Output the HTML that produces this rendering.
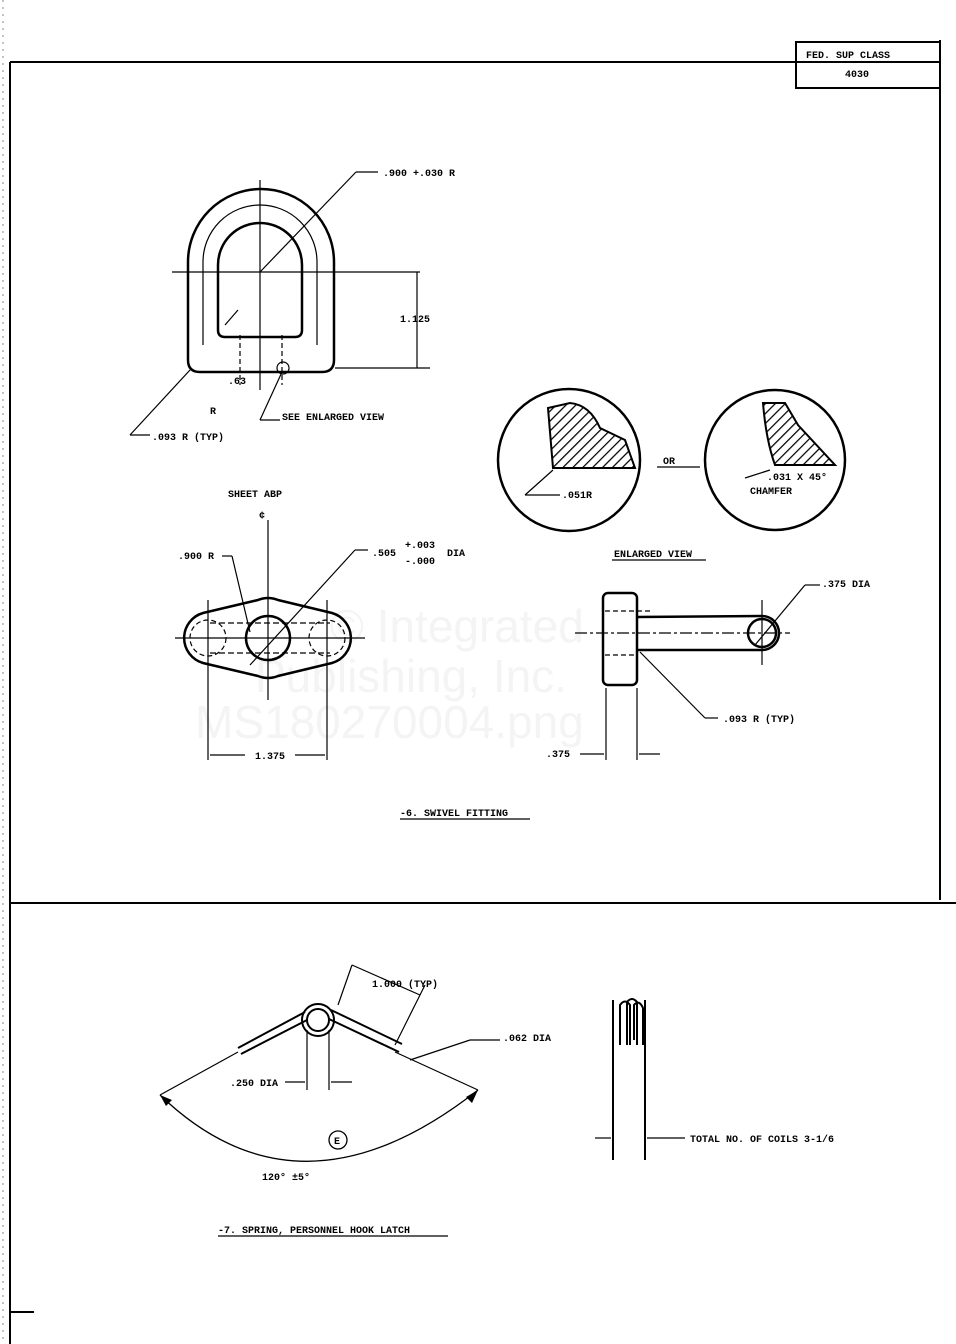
<!DOCTYPE html>
<html><head><meta charset="utf-8"><style>
html,body{margin:0;padding:0;background:#fff;}
svg{display:block;}
text{font-family:"Liberation Mono",monospace;font-size:10px;fill:#000;font-weight:bold;}
</style></head><body>
<svg width="956" height="1344" viewBox="0 0 956 1344" xmlns="http://www.w3.org/2000/svg">
<rect width="956" height="1344" fill="#fff"/>
<g>
<text x="330" y="642" style="fill:#f4f4f4;font-family:'Liberation Sans';font-size:46px;font-weight:normal">© Integrated</text>
<text x="255" y="692" style="fill:#f4f4f4;font-family:'Liberation Sans';font-size:46px;font-weight:normal">Publishing, Inc.</text>
<text x="195" y="738" style="fill:#f4f4f4;font-family:'Liberation Sans';font-size:46px;font-weight:normal">MS180270004.png</text>
</g>
<g stroke="#000" fill="none" stroke-width="2">
<line x1="10" y1="62" x2="940" y2="62"/>
<line x1="10" y1="62" x2="10" y2="1344"/>
<line x1="940" y1="40" x2="940" y2="900"/>
<line x1="10" y1="903" x2="956" y2="903"/>
<rect x="796" y="42" width="144" height="46"/>
<line x1="10" y1="1312" x2="34" y2="1312"/>
</g>
<g stroke="#888" stroke-width="1" stroke-dasharray="2,5">
<line x1="3" y1="0" x2="3" y2="1344"/>
</g>
<text x="806" y="58" font-size="11">FED. SUP CLASS</text>
<text x="845" y="77" font-size="11">4030</text>

<g stroke="#000" fill="none" stroke-width="2.5">
<path d="M188,360 L188,262 A73,73 0 0 1 334,262 L334,360 Q334,372 322,372 L200,372 Q188,372 188,360 Z"/>
<path d="M218,330 L218,265 A42,42 0 0 1 302,265 L302,330 Q302,337 295,337 L225,337 Q218,337 218,330 Z"/>
</g>
<g stroke="#000" fill="none" stroke-width="1.2">
<path d="M203,345 L203,262 A57,57 0 0 1 317,262 L317,345"/>
<line x1="172" y1="272" x2="420" y2="272"/>
<line x1="260" y1="180" x2="260" y2="390"/>
<line x1="335" y1="368" x2="430" y2="368"/>
<line x1="417" y1="272" x2="417" y2="368"/>
<line x1="260" y1="272" x2="356" y2="172"/><line x1="356" y1="172" x2="378" y2="172"/>
<line x1="190" y1="370" x2="130" y2="435"/><line x1="130" y1="435" x2="150" y2="435"/>
<line x1="260" y1="420" x2="282" y2="372"/><line x1="260" y1="420" x2="280" y2="420"/>
<circle cx="283" cy="368" r="6"/>
<line x1="238" y1="310" x2="225" y2="325"/>
<line x1="240" y1="335" x2="240" y2="385" stroke-dasharray="5,3"/>
<line x1="282" y1="335" x2="282" y2="385" stroke-dasharray="5,3"/>
</g>
<text x="383" y="176">.900 +.030 R</text>
<text x="400" y="322">1.125</text>
<text x="228" y="384">.63</text>
<text x="210" y="414">R</text>
<text x="282" y="420">SEE ENLARGED VIEW</text>
<text x="152" y="440">.093 R (TYP)</text>

<g stroke="#000" fill="none" stroke-width="2.5">
<circle cx="569" cy="460" r="71"/>
<circle cx="775" cy="460" r="70"/>
</g>
<defs><pattern id="h" width="7" height="7" patternUnits="userSpaceOnUse" patternTransform="rotate(45)"><line x1="0" y1="0" x2="0" y2="7" stroke="#000" stroke-width="2.5"/></pattern></defs>
<path d="M548,408 L570,403 Q590,405 600,428 L625,440 L635,468 L553,468 Z" fill="url(#h)" stroke="#000" stroke-width="2"/>
<path d="M763,403 L785,403 L798,425 L835,465 L775,465 Q766,440 763,403 Z" fill="url(#h)" stroke="#000" stroke-width="2"/>
<g stroke="#000" stroke-width="1.2" fill="none">
<line x1="553" y1="470" x2="525" y2="495"/><line x1="525" y1="495" x2="560" y2="495"/>
<line x1="770" y1="470" x2="745" y2="478"/>
<line x1="657" y1="467" x2="700" y2="467"/>
<line x1="612" y1="560" x2="706" y2="560"/>
</g>
<text x="562" y="498">.051R</text>
<text x="767" y="480">.031 X 45°</text>
<text x="750" y="494" font-size="9">CHAMFER</text>
<text x="663" y="464">OR</text>
<text x="614" y="557">ENLARGED VIEW</text>

<g stroke="#000" fill="none" stroke-width="2.5">
<path d="M203,613 L258,600 Q268,596 278,600 L332,613 A26,26 0 0 1 332,663 L278,676 Q268,680 258,676 L203,663 A26,26 0 0 1 203,613 Z"/>
<circle cx="268" cy="638" r="22"/>
</g>
<g stroke="#000" fill="none" stroke-width="1.2">
<line x1="210" y1="623" x2="330" y2="623" stroke-dasharray="6,3"/>
<line x1="210" y1="653" x2="330" y2="653" stroke-dasharray="6,3"/>
<circle cx="208" cy="638" r="18" stroke-dasharray="5,3"/>
<circle cx="327" cy="638" r="18" stroke-dasharray="5,3"/>
<line x1="175" y1="638" x2="365" y2="638"/>
<line x1="268" y1="520" x2="268" y2="700"/>
<line x1="208" y1="600" x2="208" y2="760"/>
<line x1="327" y1="600" x2="327" y2="760"/>
<line x1="210" y1="755" x2="245" y2="755"/><line x1="295" y1="755" x2="325" y2="755"/>
<line x1="232" y1="556" x2="250" y2="632"/><line x1="222" y1="556" x2="232" y2="556"/>
<line x1="250" y1="665" x2="355" y2="550"/><line x1="355" y1="550" x2="368" y2="550"/>
</g>
<text x="228" y="497" font-size="9">SHEET ABP</text>
<text x="259" y="518">¢</text>
<text x="178" y="559">.900 R</text>
<text x="372" y="556">.505</text>
<text x="405" y="548">+.003</text><text x="405" y="564">-.000</text><text x="447" y="556">DIA</text>
<text x="255" y="759">1.375</text>

<g stroke="#000" fill="none" stroke-width="2.5">
<rect x="603" y="593" width="34" height="92" rx="5"/>
<path d="M637,617 L762,616 A17,17 0 0 1 762,650 L637,650"/>
<circle cx="762" cy="633" r="14"/>
</g>
<g stroke="#000" fill="none" stroke-width="1.2">
<line x1="605" y1="611" x2="650" y2="611" stroke-dasharray="5,3"/>
<line x1="605" y1="655" x2="635" y2="655" stroke-dasharray="5,3"/>
<line x1="575" y1="633" x2="790" y2="633" stroke-dasharray="12,3,3,3"/>
<line x1="762" y1="600" x2="762" y2="665"/>
<line x1="755" y1="645" x2="805" y2="585"/><line x1="805" y1="585" x2="820" y2="585"/>
<line x1="640" y1="652" x2="705" y2="718"/><line x1="705" y1="718" x2="718" y2="718"/>
<line x1="606" y1="688" x2="606" y2="760"/><line x1="637" y1="688" x2="637" y2="760"/>
<line x1="580" y1="754" x2="604" y2="754"/><line x1="639" y1="754" x2="660" y2="754"/>
</g>
<text x="822" y="587">.375 DIA</text>
<text x="723" y="722">.093 R (TYP)</text>
<text x="546" y="757">.375</text>
<text x="400" y="816">-6. SWIVEL FITTING</text>
<line x1="400" y1="819" x2="530" y2="819" stroke="#000" stroke-width="1.2"/>

<g stroke="#000" fill="none" stroke-width="2">
<circle cx="318" cy="1020" r="16"/>
<circle cx="318" cy="1020" r="11"/>
<path d="M238,1048 L305,1012 M241,1054 L307,1020"/>
<path d="M331,1010 L402,1044 M329,1019 L399,1052"/>
<path d="M160,1095 Q300,1230 478,1090" stroke-width="1.3"/>
<circle cx="338" cy="1140" r="9" stroke-width="1.3"/>
</g>
<path d="M160,1095 L172,1100 L166,1106 Z M478,1090 L472,1103 L466,1097 Z" fill="#000"/>
<g stroke="#000" fill="none" stroke-width="1.2">
<line x1="307" y1="1030" x2="307" y2="1090"/><line x1="329" y1="1030" x2="329" y2="1090"/>
<line x1="285" y1="1082" x2="305" y2="1082"/><line x1="331" y1="1082" x2="352" y2="1082"/>
<line x1="338" y1="1005" x2="352" y2="965"/><line x1="395" y1="1045" x2="425" y2="985"/>
<line x1="352" y1="965" x2="420" y2="995"/>
<line x1="410" y1="1060" x2="470" y2="1040"/><line x1="470" y1="1040" x2="500" y2="1040"/>
<line x1="395" y1="1052" x2="478" y2="1090"/>
<line x1="238" y1="1052" x2="160" y2="1095"/>
</g>
<text x="372" y="987">1.000 (TYP)</text>
<text x="503" y="1041">.062 DIA</text>
<text x="230" y="1086">.250 DIA</text>
<text x="334" y="1144" font-size="8">E</text>
<text x="262" y="1180">120° ±5°</text>
<text x="218" y="1233">-7. SPRING, PERSONNEL HOOK LATCH</text>
<line x1="218" y1="1236" x2="448" y2="1236" stroke="#000" stroke-width="1.2"/>

<g stroke="#000" fill="none" stroke-width="2">
<line x1="613" y1="1000" x2="613" y2="1160"/>
<line x1="645" y1="1000" x2="645" y2="1160"/>
<path d="M620,1045 L620,1005 Q625,998 630,1005 L630,1045 M627,1045 L627,1002 Q632,996 637,1002 L637,1045 M634,1040 L634,1005 Q639,999 643,1008 L643,1045"/>
</g>
<g stroke="#000" stroke-width="1.2">
<line x1="595" y1="1138" x2="611" y2="1138"/><line x1="647" y1="1138" x2="685" y2="1138"/>
</g>
<text x="690" y="1142">TOTAL NO. OF COILS 3-1/6</text>
</svg>
</body></html>
